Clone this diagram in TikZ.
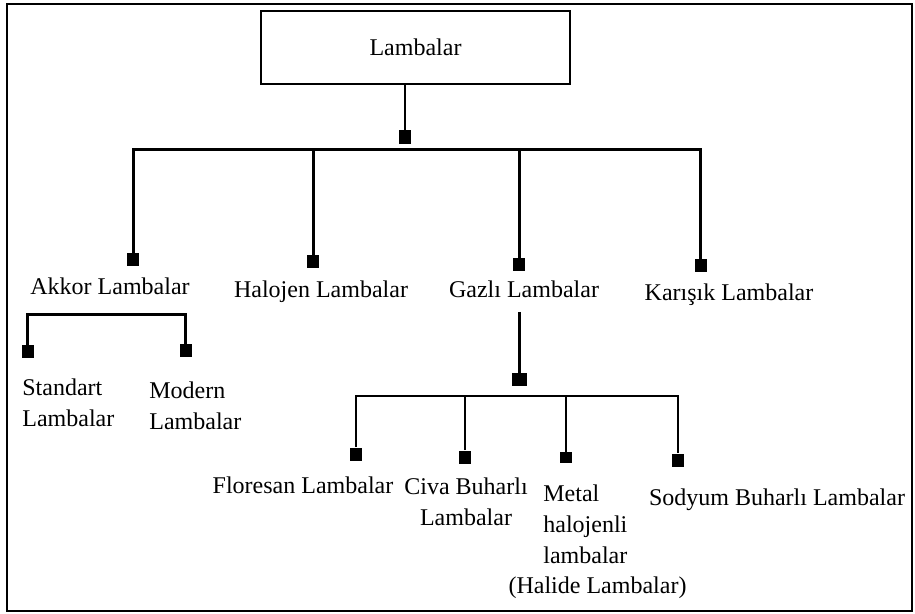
\documentclass[tikz,border=0pt]{standalone}
\usepackage{fontspec}
\setmainfont{Liberation Serif}
\usetikzlibrary{positioning}
\tikzset{tip/.style={rectangle,fill,inner sep=0pt,minimum width=6pt,minimum height=6.5pt},
  lbl/.style={inner sep=0pt,font=\fontsize{12}{15.5}\selectfont},
  rootbox/.style={draw,line width=0.8pt,minimum width=154.5pt,minimum height=36.5pt,font=\fontsize{12}{15.5}\selectfont},
  heavy/.style={line width=1.5pt},
  mid/.style={line width=1pt},
  fine/.style={line width=0.6pt}}

\begin{document}
\begin{tikzpicture}[x=0.5pt, y=-0.5pt]
    \useasboundingbox (0,0) rectangle (915,614);
    \draw[line width=1.2pt] (7,4) rectangle (912,611);

    \node[rootbox] (root) at (415.5,47.5) {Lambalar};

    \node[tip, minimum height=7pt] (j0) at (405,137) {};
    \coordinate (bus) at (405,150);

    \node[tip] (sq-akkor) at (133,259.5) {};
    \node[tip] (sq-halojen) at (313,262) {};
    \node[tip] (sq-gazli) at (519,264.5) {};
    \node[tip] (sq-karisik) at (700.5,266) {};

    \node[lbl, anchor=base] (akkor) at (110,295) {Akkor Lambalar};
    \node[lbl, anchor=base] (halojen) at (321,298) {Halojen Lambalar};
    \node[lbl, anchor=base] (gazli) at (524,298) {Gazlı Lambalar};
    \node[lbl, anchor=base] (karisik) at (729,301) {Karışık Lambalar};

    \coordinate (akkor-bar) at (106,315);
    \node[tip] (sq-standart) at (27.5,351.5) {};
    \node[tip] (sq-modern) at (185.5,350.5) {};
    \node[lbl, align=left, anchor=west] (standart) at (22,402.5) {Standart\\Lambalar};
    \node[lbl, align=left, anchor=west] (modern) at (149,406) {Modern\\Lambalar};

    \coordinate (gazli-stem) at (519.5,312);
    \node[tip, minimum width=7.5pt] (g0) at (519.5,379.5) {};
    \coordinate (gazli-bus) at (519.5,396);

    \node[tip] (sq-floresan) at (355.5,454) {};
    \node[tip] (sq-civa) at (464.5,457) {};
    \node[tip, minimum height=5.5pt] (sq-metal) at (566,457.5) {};
    \node[tip] (sq-sodyum) at (678,460) {};

    \node[lbl, anchor=base] (floresan) at (303,493) {Floresan Lambalar};
    \node[lbl, align=center] (civa) at (466,501.5) {Civa Buharlı\\Lambalar};
    \node[lbl, align=left, anchor=west] (metal) at (543,524) {Metal\\halojenli\\lambalar};
    \node[lbl, anchor=base] (halide) at (597.5,593) {(Halide Lambalar)};
    \node[lbl, anchor=base] (sodyum) at (777,505) {Sodyum Buharlı Lambalar};

    \draw[fine] (root.south -| j0) -- (j0.north);
    \draw[heavy] (sq-akkor.north) |- (bus) -| (sq-karisik.north);
    \draw[heavy] (sq-halojen.north) -- (sq-halojen.north |- bus);
    \draw[heavy] (sq-gazli.north) -- (sq-gazli.north |- bus);

    \draw[heavy] (sq-standart.north) |- (akkor-bar) -| (sq-modern.north);

    \draw[heavy] (gazli-stem) -- (g0.north);
    \draw[mid] (sq-floresan.north) |- (gazli-bus) -| (sq-sodyum.north);
    \draw[mid] (sq-civa.north) -- (sq-civa.north |- gazli-bus);
    \draw[fine] (sq-metal.north) -- (sq-metal.north |- gazli-bus);
\end{tikzpicture}
\end{document}
